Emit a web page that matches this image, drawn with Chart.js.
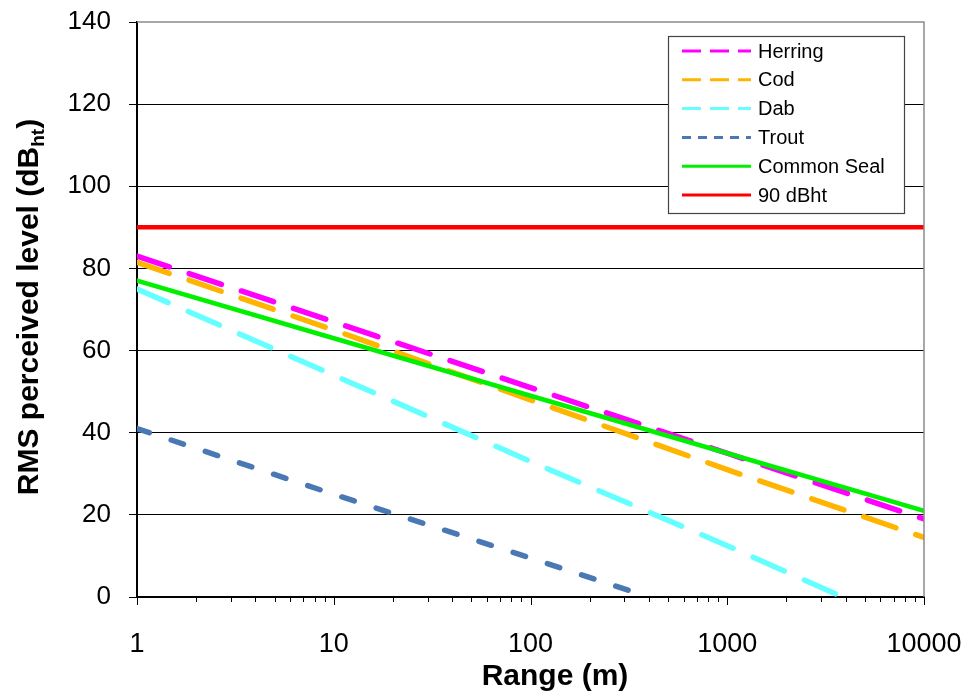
<!DOCTYPE html>
<html>
<head>
<meta charset="utf-8">
<script src="https://cdn.jsdelivr.net/npm/chart.js@4/dist/chart.umd.min.js"></script>
<style>
  html, body { margin: 0; padding: 0; background: #fff; }
  #wrap { width: 970px; height: 698px; }
</style>
</head>
<body>
<div id="wrap"><canvas id="c" width="970" height="698"></canvas></div>
<script>
// ---- data ----
const decadeRange   = [1, 10, 100, 1000, 10000];
const herringLevel  = [83, 67, 51, 35, 19];
const codLevel      = [81.5, 65, 48, 31, 14.5];
const dabRange      = [1, 10, 100, 1000, 3850];
const dabLevel      = [75, 54, 33, 12.5, 0];
const troutRange    = [1, 10, 100, 400];
const troutLevel    = [41, 25, 9.5, 0];
const sealLevel     = [77, 63, 49, 35, 21];
const thresholdRange = [1, 10000];
const thresholdLevel = [90, 90];
const seriesNames   = ['Herring', 'Cod', 'Dab', 'Trout', 'Common Seal', '90 dBht'];
const xTickLabels   = [1, 10, 100, 1000, 10000];
const yTickLabels   = [0, 20, 40, 60, 80, 100, 120, 140];

const FONT = '"Liberation Sans", Arial, sans-serif';

function pts(xs, ys) { return xs.map((x, i) => ({ x: x, y: ys[i] })); }

const styles = [
  { color: '#FF00FF', dash: [34, 21], width: 5.5, legendDash: [19, 9] },
  { color: '#FFB400', dash: [34, 21], width: 5.5, legendDash: [19, 9] },
  { color: '#66FFFF', dash: [34, 22], width: 5.5, legendDash: [19, 9] },
  { color: '#4A78B4', dash: [13, 23], width: 5.5, legendDash: [9, 7] },
  { color: '#00F000', dash: [], width: 4.5, legendDash: [] },
  { color: '#FF0000', dash: [], width: 4.5, legendDash: [] }
];
const seriesData = [
  pts(decadeRange, herringLevel),
  pts(decadeRange, codLevel),
  pts(dabRange, dabLevel),
  pts(troutRange, troutLevel),
  pts(decadeRange, sealLevel),
  pts(thresholdRange, thresholdLevel)
];

const datasets = seriesNames.map((name, i) => ({
  label: name,
  data: seriesData[i],
  borderColor: styles[i].color,
  backgroundColor: styles[i].color,
  borderWidth: styles[i].width,
  borderDash: styles[i].dash,
  borderCapStyle: 'round',
  pointRadius: 0,
  fill: false,
  tension: 0,
  order: i === 5 ? 10 : (10 - i)
}));

const decor = {
  id: 'decor',
  afterDraw(chart) {
    const ctx = chart.ctx;
    const xs = chart.scales.x, a = chart.chartArea;
    ctx.save();
    // plot area border (top, right) in gray
    ctx.strokeStyle = '#8c8c8c';
    ctx.lineWidth = 1.5;
    ctx.beginPath();
    ctx.moveTo(a.left, a.top); ctx.lineTo(a.right, a.top); ctx.lineTo(a.right, a.bottom);
    ctx.stroke();
    // x tick marks (log major + minor)
    ctx.strokeStyle = '#000';
    ctx.lineWidth = 1;
    for (let d = 1; d <= 10000; d *= 10) {
      const px = Math.round(xs.getPixelForValue(d)) + 0.5;
      ctx.beginPath(); ctx.moveTo(px, a.bottom); ctx.lineTo(px, a.bottom + 8); ctx.stroke();
      if (d < 10000) {
        for (let m = 2; m <= 9; m++) {
          const p = Math.round(xs.getPixelForValue(d * m)) + 0.5;
          ctx.beginPath(); ctx.moveTo(p, a.bottom); ctx.lineTo(p, a.bottom + 5); ctx.stroke();
        }
      }
    }
    // legend
    const lx = 668, ly = 36, lw = 236, lh = 177;
    ctx.fillStyle = '#fff';
    ctx.fillRect(lx, ly, lw, lh);
    ctx.strokeStyle = '#444';
    ctx.lineWidth = 1.2;
    ctx.strokeRect(lx + 0.5, ly + 0.5, lw, lh);
    ctx.font = '20px ' + FONT;
    ctx.textBaseline = 'middle';
    ctx.textAlign = 'left';
    chart.data.datasets.forEach((ds, i) => {
      const y = 51 + i * 28.8;
      ctx.strokeStyle = ds.borderColor;
      ctx.lineWidth = 3;
      ctx.lineCap = 'butt';
      ctx.setLineDash(styles[i].legendDash);
      ctx.beginPath(); ctx.moveTo(682, y); ctx.lineTo(751, y); ctx.stroke();
      ctx.setLineDash([]);
      ctx.fillStyle = '#000';
      ctx.fillText(ds.label, 758, y + 1);
    });
    // x axis title
    ctx.fillStyle = '#000';
    ctx.font = 'bold 30px ' + FONT;
    ctx.textAlign = 'center';
    ctx.textBaseline = 'alphabetic';
    ctx.fillText('Range (m)', 555, 685);
    // y axis title with subscript
    ctx.translate(38, 307);
    ctx.rotate(-Math.PI / 2);
    const big = 'bold 30px ' + FONT, small = 'bold 19px ' + FONT;
    const p1 = 'RMS perceived level (dB', p2 = 'ht', p3 = ')';
    ctx.font = big; const w1 = ctx.measureText(p1).width, w3 = ctx.measureText(p3).width;
    ctx.font = small; const w2 = ctx.measureText(p2).width;
    let x0 = -(w1 + w2 + w3) / 2;
    ctx.textAlign = 'left';
    ctx.font = big; ctx.fillText(p1, x0, 0);
    ctx.font = small; ctx.fillText(p2, x0 + w1, 6);
    ctx.font = big; ctx.fillText(p3, x0 + w1 + w2, 0);
    ctx.restore();
  }
};

function zeroPad(scale) {
  scale.paddingTop = 0; scale.paddingBottom = 0;
  scale.paddingLeft = 0; scale.paddingRight = 0;
}

Chart.defaults.color = '#000';
Chart.defaults.font.family = FONT;

new Chart(document.getElementById('c'), {
  type: 'line',
  data: { datasets: datasets },
  plugins: [decor],
  options: {
    responsive: false,
    animation: false,
    layout: { padding: { top: 22, right: 46, left: 0, bottom: 0 } },
    plugins: { legend: { display: false }, tooltip: { enabled: false } },
    scales: {
      x: {
        type: 'logarithmic',
        min: 1, max: 10000,
        afterBuildTicks(scale) { scale.ticks = xTickLabels.map(v => ({ value: v })); },
        afterFit(scale) { scale.height = 101; zeroPad(scale); },
        grid: { display: false },
        border: { display: true, color: '#000', width: 2 },
        ticks: {
          autoSkip: false, maxRotation: 0, padding: 23,
          font: { size: 27 },
          callback: (v) => String(v)
        }
      },
      y: {
        type: 'linear',
        min: 0, max: 140,
        afterBuildTicks(scale) { scale.ticks = yTickLabels.map(v => ({ value: v })); },
        afterFit(scale) { scale.width = 137; zeroPad(scale); },
        grid: {
          color: (c) => (c.tick && c.tick.value === 140) ? 'rgba(0,0,0,0)' : '#000',
          tickColor: '#000', lineWidth: 1, tickLength: 8, drawTicks: true
        },
        border: { display: true, color: '#000', width: 2 },
        ticks: { padding: 18, font: { size: 26 } }
      }
    }
  }
});
</script>
</body>
</html>
